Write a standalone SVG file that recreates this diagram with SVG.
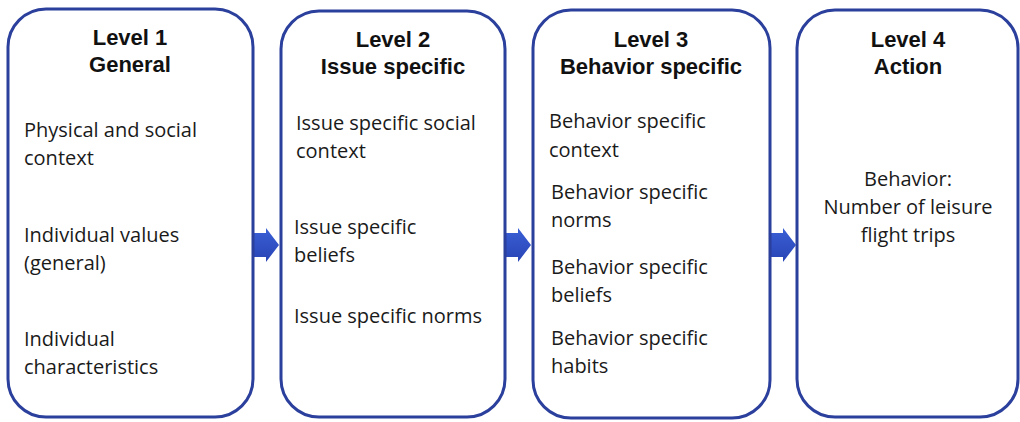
<svg xmlns="http://www.w3.org/2000/svg" width="1020" height="422" viewBox="0 0 1020 422">
  <style>
    .box { fill: #ffffff; stroke: #2b3f9c; stroke-width: 3; }
    .title { font-family: "Liberation Sans", Arial, sans-serif; font-weight: bold; font-size: 22px; fill: #111111; text-anchor: middle; }
    .body { font-family: "Open Sans", "Noto Sans", sans-serif; font-size: 20px; fill: #1a1a1a; }
    .center { text-anchor: middle; }
    .arrow { fill: url(#arrowFill); }
  </style>
  <defs>
    <linearGradient id="arrowFill" x1="0" y1="0" x2="0" y2="1">
      <stop offset="0" stop-color="#3a5fd6"/>
      <stop offset="1" stop-color="#2844b4"/>
    </linearGradient>
  </defs>

  <rect width="1020" height="422" fill="#ffffff"/>

  <!-- connectors: block arrows between levels -->
  <g id="connectors">
    <polygon class="arrow" points="253,233 266,233 266,228 279,245 266,262 266,257 253,257"/>
    <polygon class="arrow" points="505,233 518,233 518,228 531,245 518,262 518,257 505,257"/>
    <polygon class="arrow" points="770,233 783,233 783,228 796,245 783,262 783,257 770,257"/>
  </g>

  <g id="level1">
    <rect class="box" x="8" y="9" width="245" height="408" rx="38" ry="38"/>
    <text class="title" x="130" y="45">Level 1</text>
    <text class="title" x="130" y="72">General</text>
    <text class="body" x="24" y="137">Physical and social</text>
    <text class="body" x="24" y="165">context</text>
    <text class="body" x="24" y="242">Individual values</text>
    <text class="body" x="24" y="270">(general)</text>
    <text class="body" x="24" y="346">Individual</text>
    <text class="body" x="24" y="374">characteristics</text>
  </g>

  <g id="level2">
    <rect class="box" x="281" y="11" width="224" height="406" rx="38" ry="38"/>
    <text class="title" x="393" y="47">Level 2</text>
    <text class="title" x="393" y="74">Issue specific</text>
    <text class="body" x="296" y="130">Issue specific social</text>
    <text class="body" x="296" y="158">context</text>
    <text class="body" x="294" y="234">Issue specific</text>
    <text class="body" x="294" y="262">beliefs</text>
    <text class="body" x="294" y="323">Issue specific norms</text>
  </g>

  <g id="level3">
    <rect class="box" x="533" y="10" width="237" height="408" rx="38" ry="38"/>
    <text class="title" x="651" y="47">Level 3</text>
    <text class="title" x="651" y="74">Behavior specific</text>
    <text class="body" x="549" y="128">Behavior specific</text>
    <text class="body" x="549" y="157">context</text>
    <text class="body" x="551" y="199">Behavior specific</text>
    <text class="body" x="551" y="227">norms</text>
    <text class="body" x="551" y="274">Behavior specific</text>
    <text class="body" x="551" y="302">beliefs</text>
    <text class="body" x="551" y="345">Behavior specific</text>
    <text class="body" x="551" y="373">habits</text>
  </g>

  <g id="level4">
    <rect class="box" x="797" y="10" width="221" height="407" rx="38" ry="38"/>
    <text class="title" x="908" y="47">Level 4</text>
    <text class="title" x="908" y="74">Action</text>
    <text class="body center" x="908" y="186">Behavior:</text>
    <text class="body center" x="908" y="214">Number of leisure</text>
    <text class="body center" x="908" y="242">flight trips</text>
  </g>
</svg>
